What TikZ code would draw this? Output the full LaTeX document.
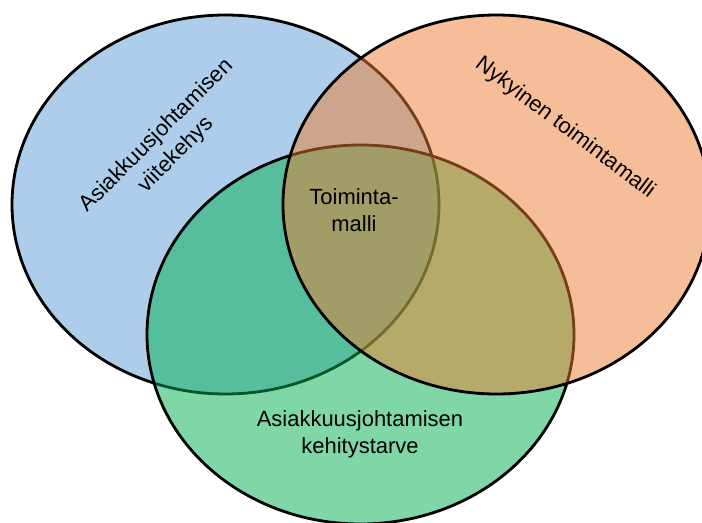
\documentclass[tikz,border=0pt]{standalone}
\usepackage{fontspec}
\setmainfont{Liberation Sans}
\usetikzlibrary{shapes.geometric}
\definecolor{vnBlue}{RGB}{91,155,213}
\definecolor{vnOrange}{RGB}{237,125,49}
\definecolor{vnGreen}{RGB}{0,176,80}

\begin{document}
\begin{tikzpicture}[
    set/.style={draw=black, ellipse, line width=1.6pt, fill opacity=0.5,
      minimum width=8.54cm, minimum height=7.58cm, inner sep=0pt},
    lbl/.style={align=center, font=\fontsize{12.5}{15.5}\selectfont, inner sep=0pt}
  ]
    \useasboundingbox (0,0) rectangle (14.04,10.44);
    \clip (0,0) rectangle (14.04,10.44);
    % three sets, drawn back to front
    \node[set, fill=vnBlue] (viite) at (4.51, 6.35) {};
    \node[set, fill=vnGreen] (tarve) at (7.21, 3.75) {};
    \node[set, fill=vnOrange] (nyky) at (9.93, 6.35) {};
    % labels
    \node[lbl, rotate=45] (viiteTxt) at (3.33, 7.53) {Asiakkuusjohtamisen\\viitekehys};
    \node[lbl, rotate=-37] (nykyTxt) at (11.30, 7.88) {Nykyinen toimintamalli};
    \node[lbl] (tarveTxt) at (7.20, 1.76) {Asiakkuusjohtamisen\\kehitystarve};
    \node[lbl] (malli) at (7.08, 6.24) {Toiminta-\\malli};
  \end{tikzpicture}
\end{document}
